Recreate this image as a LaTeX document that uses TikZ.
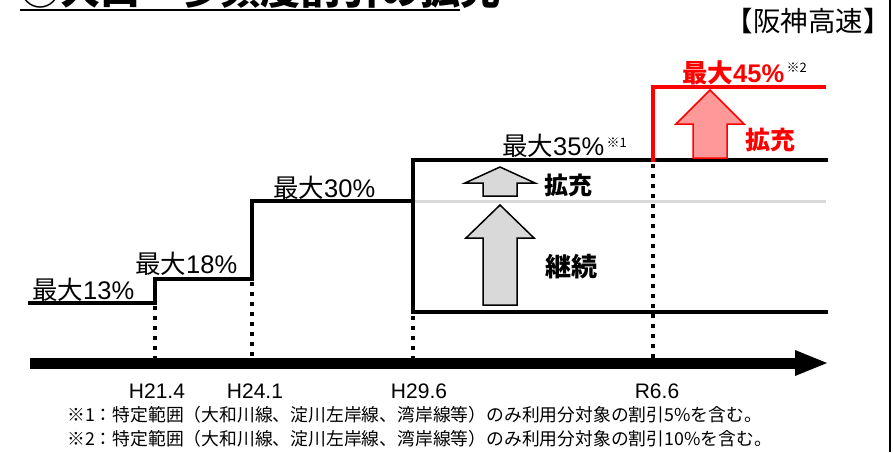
\documentclass[tikz,border=0pt]{standalone}
\usepackage{fontspec}
\setmainfont{Liberation Sans}
\newfontfamily\jp{Noto Sans CJK JP}
\usetikzlibrary{arrows.meta}

\definecolor{hsred}{HTML}{FF0000}
\definecolor{hspink}{HTML}{FF9999}
\definecolor{hsgray}{HTML}{D9D9D9}

\tikzset{
  stepline/.style={line width=4pt, line join=miter, line cap=rect},
  dotline/.style={line width=3.5pt, dash pattern=on 4pt off 6pt},
  blockarrow/.style={draw, line width=1.5pt, line join=miter},
  lbl/.style={inner sep=0pt, font=\fontsize{25.5}{25}\selectfont},
  datelbl/.style={inner sep=0pt, font=\fontsize{21}{21}\selectfont},
  note/.style={inner sep=0pt, anchor=base west, font=\jp\fontsize{17.8}{18}\selectfont},
  notemark/.style={inner sep=0pt, anchor=base west, font=\jp\fontsize{13}{13}\selectfont}
}
\newcommand{\saidai}{{\jp 最大}}

\begin{document}
\begin{tikzpicture}[x=1pt, y=-1pt]
\useasboundingbox (0,0) rectangle (893,452);
\clip (0,0) rectangle (893,452);

% Title (cut off at the top) and frame
\node[inner sep=0pt, anchor=base west, font=\jp\bfseries\fontsize{40}{40}\selectfont] (title) at (20,5) {③大口・多頻度割引の拡充};
\draw[line width=2pt] (20,10) -- (460,10);
\draw[line width=2.5pt] (890,0) -- (890,452);
\node[inner sep=0pt, font=\jp\fontsize{27.5}{27.5}\selectfont] (company) at (808,21) {【阪神高速】};

% Corners of the steps
\coordinate (a0) at (30,303);
\coordinate (a1) at (155,279);
\coordinate (a2) at (252,201);
\coordinate (a3) at (413,201);
\coordinate (b0) at (413,160);
\coordinate (b1) at (826,160);
\coordinate (c0) at (413,312);
\coordinate (c1) at (826,312);
\coordinate (r0) at (653,160);
\coordinate (r1) at (824,87);

% Level carried on (grey)
\draw[hsgray, line width=3pt] (a3) -- (a3 -| b1);

% Steps
\draw[stepline] (a0) -| (a1) -| (a2) -- (a3);
\draw[stepline] (b1) -- (b0) -- (c0) -- (c1);
\draw[stepline, hsred] (r0) |- (r1);

% Time axis
\coordinate (axis0) at (30,363);
\coordinate (axis1) at (829,363);
\draw[line width=11pt, -{Triangle[length=34pt, width=23pt]}] (axis0) -- (axis1);

% Dotted drop lines
\draw[dotline] (155,306) -- (a1 |- axis0);
\draw[dotline] (252,282) -- (a2 |- axis0);
\draw[dotline] (413,316) -- (a3 |- axis0);
\draw[dotline] (653,164) -- (r0 |- axis0);

% Block arrows
\draw[blockarrow, fill=hsgray] (483,196) -- (483,183) -- (465,183) -- (500,167)
    -- (535,183) -- (517,183) -- (517,196) -- cycle;
\draw[blockarrow, fill=hsgray] (483,305) -- (483,238) -- (466,238) -- (500,205)
    -- (534,238) -- (517,238) -- (517,305) -- cycle;
\draw[blockarrow, hsred, fill=hspink] (693,158) -- (693,124) -- (676,124) -- (710,90)
    -- (744,124) -- (727,124) -- (727,158) -- cycle;

% Levels
\node[lbl, anchor=base west] (l13) at (32,299) {\saidai 13\%};
\node[lbl, anchor=base west] (l18) at (135,273) {\saidai 18\%};
\node[lbl, anchor=base west] (l30) at (273,197) {\saidai 30\%};
\node[lbl, anchor=base west] (l35) at (502,155) {\saidai 35\%};
\node[notemark] (m1) at ([xshift=2pt, yshift=8pt]l35.base east) {※1};
\node[lbl, anchor=base west, hsred, font=\fontsize{25.5}{25}\selectfont\bfseries] (l45) at (682,82) {{\jp\bfseries 最大}45\%};
\node[notemark] (m2) at ([xshift=2pt, yshift=10pt]l45.base east) {※2};

% Arrow labels
\node[inner sep=0pt, anchor=base west, font=\jp\bfseries\fontsize{24}{24}\selectfont] (kaku1) at (544,194) {拡充};
\node[inner sep=0pt, anchor=base west, font=\jp\bfseries\fontsize{26}{26}\selectfont] (keizoku) at (545,276) {継続};
\node[inner sep=0pt, anchor=base west, hsred, font=\jp\bfseries\fontsize{25}{25}\selectfont] (kaku2) at (745,149) {拡充};

% Dates
\node[datelbl, anchor=base] (d1) at (157,398) {H21.4};
\node[datelbl, anchor=base] (d2) at (255,398) {H24.1};
\node[datelbl, anchor=base] (d3) at (419,398) {H29.6};
\node[datelbl, anchor=base] (d4) at (657,398) {R6.6};

% Notes
\node[note] (n1) at (67,421) {※1：特定範囲（大和川線、淀川左岸線、湾岸線等）のみ利用分対象の割引5\%を含む。};
\node[note] (n2) at (67,445) {※2：特定範囲（大和川線、淀川左岸線、湾岸線等）のみ利用分対象の割引10\%を含む。};
\end{tikzpicture}
\end{document}
